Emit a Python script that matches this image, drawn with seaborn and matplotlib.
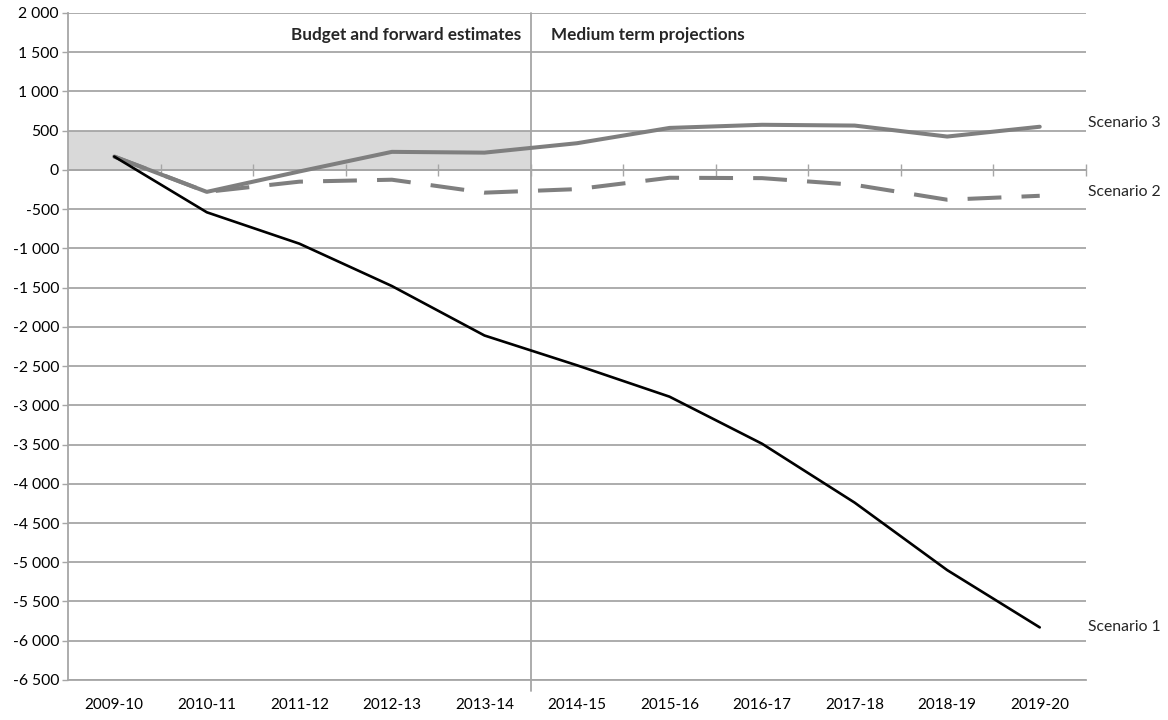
import matplotlib
matplotlib.use("Agg")
import matplotlib.pyplot as plt
import matplotlib.ticker as mticker
import numpy as np
import pandas as pd
import seaborn as sns

# Financial years on the horizontal axis
years = ["2009-10", "2010-11", "2011-12", "2012-13", "2013-14", "2014-15",
         "2015-16", "2016-17", "2017-18", "2018-19", "2019-20"]

# Projected balance ($m) under each scenario
scenario1 = [170, -540, -940, -1480, -2110, -2490, -2890, -3490, -4240, -5100, -5830]
scenario2 = [170, -280, -150, -125, -290, -245, -100, -105, -190, -380, -330]
scenario3 = [170, -280, -20, 230, 220, 340, 535, 575, 565, 425, 550]

series_names = ["Scenario 1", "Scenario 2", "Scenario 3"]

# Target band shown over the budget and forward estimates period
band_low, band_high = 0, 500
forward_years = 5

sns.set_theme(style="white")
plt.rcParams["font.family"] = ["Lato", "DejaVu Sans"]

df = pd.DataFrame({"year": years * 3,
                   "value": scenario1 + scenario2 + scenario3,
                   "scenario": np.repeat(series_names, len(years))})

fig = plt.figure(figsize=(11.68, 7.2), dpi=100)
ax = fig.add_axes([0.0582, 0.0556, 0.8716, 0.9264])

grid_col = "#a6a6a6"
line_grey = "#7f7f7f"

sns.lineplot(data=df[df.scenario == "Scenario 1"], x="year", y="value", ax=ax,
             color="black", linewidth=1.9, sort=False, zorder=4)
sns.lineplot(data=df[df.scenario == "Scenario 2"], x="year", y="value", ax=ax,
             color=line_grey, linewidth=2.9, sort=False, zorder=3,
             dashes=False)
sns.lineplot(data=df[df.scenario == "Scenario 3"], x="year", y="value", ax=ax,
             color=line_grey, linewidth=2.9, sort=False, zorder=3)

# dashed pattern for scenario 2
ax.lines[1].set_dashes([8.4, 5.0])
ax.lines[1].set_dash_capstyle("butt")
for ln in ax.lines:
    ln.set_solid_capstyle("round")

n = len(years)
ax.set_xlim(-0.5, n - 0.5)
ax.set_ylim(-6500, 2000)

split = forward_years - 0.5
ax.fill_between([-0.5, split], band_low, band_high, color="#d9d9d9",
                linewidth=0, zorder=0.2)
ax.axvline(split, ymin=-0.016, ymax=1, color=grid_col, linewidth=1.3,
           clip_on=False, zorder=1)

# horizontal gridlines
ax.yaxis.set_major_locator(mticker.MultipleLocator(500))
ax.grid(axis="y", color=grid_col, linewidth=1.3)
ax.grid(axis="x", visible=False)
ax.set_axisbelow(True)

ax.yaxis.set_major_formatter(mticker.FuncFormatter(
    lambda v, p: f"{int(v):,}".replace(",", " ")))
ax.tick_params(axis="y", which="major", left=True, length=4.5, width=1.0,
               color=grid_col, direction="out", pad=2, labelsize=11.3,
               labelcolor="black")

# category labels at the bottom, crossing ticks on the zero axis
ax.set_xticks(range(n))
ax.set_xticklabels(years)
ax.set_xticks(np.arange(0.5, n, 1.0), minor=True)
ax.tick_params(axis="x", which="major", bottom=True, top=False, length=0,
               pad=13, labelsize=11, labelcolor="black")
ax.tick_params(axis="x", which="minor", bottom=False, top=True, length=8,
               width=1.0, color=grid_col, direction="inout")
ax.spines["top"].set_position(("data", 0))
ax.spines["top"].set_color(grid_col)
ax.spines["top"].set_linewidth(1.3)
ax.spines["top"].set_zorder(2)
ax.spines["left"].set_color(grid_col)
ax.spines["left"].set_linewidth(1.3)
ax.spines["bottom"].set_color(grid_col)
ax.spines["bottom"].set_linewidth(1.3)
ax.spines["right"].set_visible(False)

ax.set_xlabel("")
ax.set_ylabel("")

# period headings either side of the divider
ax.text(split - 0.1, 1720, "Budget and forward estimates", ha="right",
        va="center", fontsize=12.3, fontweight="bold")
ax.text(split + 0.22, 1720, "Medium term projections", ha="left",
        va="center", fontsize=12.3, fontweight="bold")

# series labels to the right of the plot
label_offsets = [0, 50, 50]
for name, vals, off in zip(series_names, [scenario1, scenario2, scenario3],
                           label_offsets):
    ax.text(1.002, vals[-1] + off, name, transform=ax.get_yaxis_transform(),
            ha="left", va="center", fontsize=11.3)

fig.savefig("out.png", dpi=100)
